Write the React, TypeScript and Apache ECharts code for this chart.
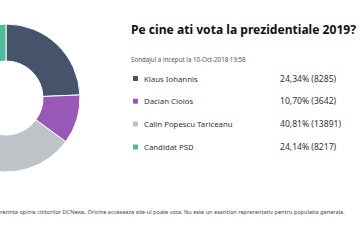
import React, { useEffect, useRef } from "react";
import * as echarts from "echarts";

const categories = ["Klaus Iohannis", "Dacian Ciolos", "Calin Popescu Tariceanu", "Candidat PSD"];
const percents = ["24,34%", "10,70%", "40,81%", "24,14%"];
const votes = [8285, 3642, 13891, 8217];
const colors = ["#45546b", "#9758b6", "#bdc3c7", "#4fb99c"];
const titleText = "Pe cine ati vota la prezidentiale 2019?";
const subText = "Sondajul a inceput la 10-Oct-2018 19:58";
const footText =
  "rezinta opinia cititorilor DCNews. Oricine acceseaza site-ul poate vota. Nu este un esantion reprezentativ pentru populatia generala.";

export default function App() {
  const ref = useRef<HTMLDivElement>(null);
  useEffect(() => {
    if (!ref.current) return;
    const chart = echarts.init(ref.current, null, { renderer: "svg" });
    const font = "'Noto Sans', sans-serif";
    chart.setOption({
      animation: false,
      backgroundColor: "#ffffff",
      color: colors,
      title: [
        {
          text: titleText,
          left: 126,
          top: 18,
          textStyle: { fontSize: 12.1, fontWeight: "bold", color: "#111111", fontFamily: font },
        },
        {
          text: subText,
          left: 126,
          top: 51,
          textStyle: { fontSize: 6.2, fontWeight: "normal", color: "#555555", fontFamily: font },
        },
      ],
      legend: {
        orient: "vertical",
        left: 126,
        top: 69,
        itemWidth: 7,
        itemHeight: 7,
        itemGap: 13.8,
        icon: "roundRect",
        selectedMode: false,
        data: categories,
        formatter: (name: string) => {
          const i = categories.indexOf(name);
          return `{n|${name}}{v|${percents[i]} (${votes[i]})}`;
        },
        textStyle: {
          fontFamily: font,
          fontSize: 8,
          color: "#333333",
          rich: {
            n: { width: 136, fontSize: 7.8, lineHeight: 12, color: "#333333", fontFamily: font },
            v: { fontSize: 8.6, lineHeight: 12, color: "#333333", fontFamily: font },
          },
        },
      },
      graphic: [
        {
          type: "text",
          left: 0,
          top: 209,
          style: { text: footText, fontSize: 5.6, fill: "#444444", fontFamily: font },
        },
      ],
      series: [
        {
          type: "pie",
          center: [6, 98],
          radius: [37, 74],
          startAngle: 90,
          clockwise: true,
          label: { show: false },
          labelLine: { show: false },
          itemStyle: { borderColor: "#ffffff", borderWidth: 1 },
          data: categories.map((c, i) => ({ name: c, value: votes[i] })),
        },
      ],
    });
    return () => chart.dispose();
  }, []);
  return <div ref={ref} style={{ width: 360, height: 240, position: "absolute", left: 0, top: 0 }} />;
}
